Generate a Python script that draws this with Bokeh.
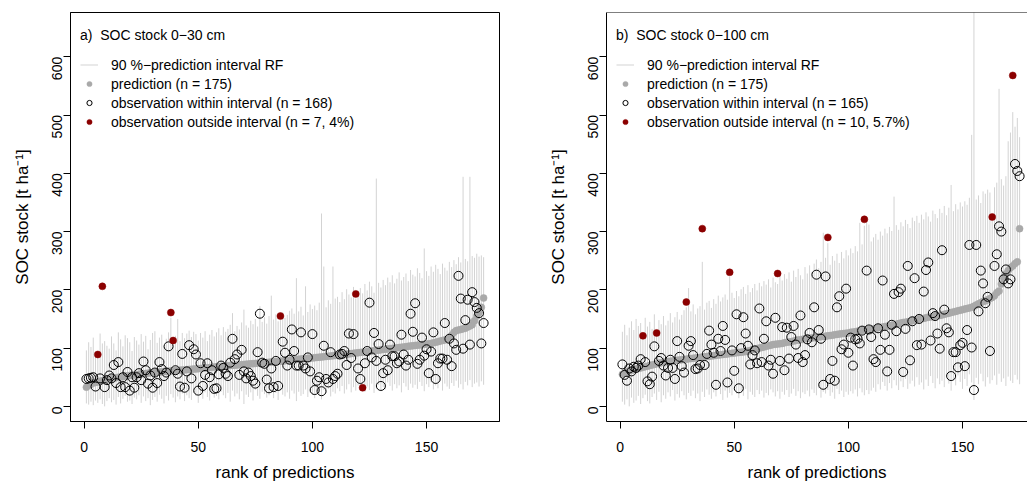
import math
import numpy as np
from bokeh.plotting import figure
from bokeh.layouts import row
from bokeh.models import ColumnDataSource, Range1d, FixedTicker, Legend, LegendItem, Span
from bokeh.embed import file_html
from bokeh.resources import INLINE

FONT = "Liberation Sans"

# ---------------- data: panel a (SOC stock 0-30 cm) ----------------
PRED_A = [33, 36, 38, 40, 41, 42, 43, 44, 45, 46,
          47, 48, 48.5, 49, 50, 50.5, 51, 52, 52.5, 53,
          53.5, 54, 54.5, 55, 55.5, 56, 56.5, 57, 57.5, 58,
          58.3, 58.6, 59, 59.3, 59.6, 60, 60.3, 60.6, 61, 61.3,
          61.6, 62, 62.3, 62.6, 63, 63.3, 63.6, 64, 64.3, 64.6,
          65, 65.4, 65.8, 66.2, 66.6, 67, 67.4, 67.8, 68.2, 68.6,
          69, 69.3, 69.6, 70, 70.3, 70.6, 71, 71.3, 71.6, 72,
          72.3, 72.6, 73, 73.3, 73.6, 74, 74.3, 74.6, 75, 75.3,
          75.6, 76, 76.4, 76.8, 77.2, 77.6, 78, 78.4, 78.8, 79.2,
          79.6, 80, 80.4, 80.8, 81.2, 81.6, 82, 82.4, 82.8, 83.2,
          83.6, 84, 84.4, 84.8, 85.2, 85.6, 86, 86.4, 86.8, 87.2,
          87.6, 88, 88.5, 89, 89.5, 90, 90.5, 91, 91.5, 92,
          92.5, 93, 93.5, 94, 94.5, 95, 95.5, 96, 96.5, 97,
          97.5, 98, 98.5, 99, 99.5, 100, 100.5, 101, 101.5, 102,
          102.5, 103, 103.5, 104, 104.5, 105, 105.5, 106, 106.5, 107,
          107.5, 108, 109, 110, 111, 112, 113, 114, 115, 117,
          122, 127, 130, 131, 132, 133, 134, 136, 138, 140,
          147, 155, 161, 170, 186]
OBS_A = [47, 48, 49, 50, 34, 89, 48, 206, 33, 45,
         53, 48, 71, 40, 76, 33, 50, 33, 59, 27,
         50, 32, 50, 57, 45, 77, 62, 39, 53, 32,
         58, 40, 76, 64, 52, 58, 103, 161, 113, 62,
         56, 34, 90, 32, 60, 105, 48, 98, 89, 27,
         74, 35, 54, 74, 50, 62, 30, 31, 55, 70,
         66, 56, 52, 75, 116, 81, 89, 54, 97, 60,
         48, 58, 52, 44, 39, 93, 159, 75, 73, 46,
         31, 65, 33, 78, 35, 155, 111, 92, 70, 80,
         132, 95, 70, 70, 127, 70, 65, 84, 60, 124,
         28, 44, 50, 26, 104, 47, 41, 93, 47, 52,
         56, 89, 90, 95, 71, 125, 83, 124, 193, 65,
         47, 32, 74, 95, 178, 84, 126, 78, 107, 35,
         57, 80, 62, 106, 86, 86, 74, 77, 123, 89,
         70, 80, 159, 128, 177, 73, 80, 118, 87, 98,
         57, 94, 127, 47, 74, 82, 82, 143, 80, 116,
         69, 108, 97, 224, 185, 99, 148, 183, 106, 196,
         179, 169, 160, 108, 143]
LO_A = [5, 3, 8, 2, 10, 6, 12, 4, 0, 9,
        14, 7, 11, 3, 16, 5, 13, 18, 8, 10,
        4, 15, 12, 19, 6, 17, 9, 14, 2, 11,
        16, 8, 20, 13, 5, 18, 10, 21, 15, 7,
        17, 12, 22, 9, 19, 14, 11, 23, 18, 6,
        20, 13, 24, 16, 10, 21, 15, 18, 12, 25,
        19, 14, 23, 8, 27, 17, 22, 12, 26, 4,
        20, 16, 24, 10, 28, 18, 13, 25, 21, 15,
        19, 26, 14, 23, 11, 28, 20, 17, 24, 13,
        27, 22, 9, 25, 18, 21, 29, 16, 24, 20,
        14, 26, 19, 12, 28, 23, 30, 17, 25, 22,
        31, 26, 35, 22, 29, 38, 24, 33, 27, 36,
        30, 40, 25, 34, 28, 39, 23, 32, 37, 26,
        33, 29, 41, 35, 27, 38, 31, 36, 24, 40,
        34, 28, 39, 32, 37, 30, 42, 35, 26, 38,
        33, 41, 29, 36, 31, 43, 27, 39, 34, 30,
        40, 35, 44, 32, 38, 29, 42, 36, 45, 33,
        39, 41, 34, 43, 37]
HI_A = [96, 110, 102, 118, 92, 85, 125, 108, 112, 104,
        99, 120, 108, 96, 127, 115, 103, 122, 117, 110,
        95, 119, 113, 106, 124, 111, 121, 98, 114, 126,
        129, 109, 118, 123, 104, 116, 127, 152, 106, 121,
        150, 112, 126, 117, 125, 130, 119, 128, 124, 113,
        126, 118, 129, 112, 123, 131, 120, 127, 134, 122,
        136, 128, 133, 140, 160, 129, 138, 132, 144, 166,
        139, 135, 147, 141, 150, 137, 172, 145, 153, 142,
        155, 190, 149, 158, 146, 148, 161, 152, 157, 164,
        168, 159, 220, 163, 171, 156, 206, 162, 175, 167,
        173, 165, 178, 331, 240, 170, 182, 176, 240, 185,
        188, 179, 196, 184, 201, 192, 187, 205, 185, 198,
        203, 194, 210, 199, 214, 206, 195, 391, 212, 204,
        217, 208, 221, 213, 225, 211, 219, 230, 216, 222,
        228, 215, 234, 226, 223, 237, 229, 220, 271, 232,
        224, 240, 231, 243, 236, 227, 245, 238, 233, 248,
        239, 251, 244, 256, 247, 394, 253, 249, 394, 258,
        255, 262, 257, 259, 256]

# ---------------- data: panel b (SOC stock 0-100 cm) ----------------
PRED_B = [55, 57, 59, 61, 62, 63, 64, 65, 66, 67,
          68, 69, 70, 71, 72, 73, 74, 75, 75.5, 76,
          77, 77.5, 78, 78.5, 79, 79.5, 80, 80.5, 81, 81.5,
          82, 82.5, 83, 83.5, 84, 84.5, 85, 85.5, 86, 86.5,
          87, 87.5, 88, 88.5, 89, 89.5, 90, 90.5, 91, 91.5,
          92, 92.5, 93, 93.5, 94, 95, 96, 97, 98, 99,
          100, 101, 102, 103, 104, 105, 106, 106.5, 107, 107.5,
          108, 109, 110, 110.5, 111, 112, 113, 114, 114.5, 115,
          116, 116.5, 117, 117.5, 118, 118.5, 119, 119.5, 120, 120.5,
          121, 121.5, 122, 123, 123.5, 124, 124.5, 125, 125.5, 126,
          127, 127.5, 128, 129, 130, 130.5, 131, 131.5, 132, 132.5,
          133, 134, 135, 135.5, 136, 137, 137.5, 138, 139, 140,
          141, 142, 143, 144, 144.5, 145, 146, 147, 148, 149,
          150, 150.5, 151, 152, 153, 153.5, 154, 155, 155.5, 156,
          157, 158, 159, 160, 161, 162, 163, 164, 165, 166,
          167, 168, 169, 170, 172, 174, 176, 178, 180, 181,
          183, 185, 187, 190, 195, 198, 210, 221, 227, 233,
          238, 241, 245, 248, 305]
OBS_B = [72, 54, 44, 65, 60, 68, 66, 70, 81, 121,
         76, 43, 38, 51, 103, 126, 78, 83, 70, 53,
         66, 80, 66, 47, 112, 85, 69, 58, 179, 104,
         112, 88, 64, 65, 71, 305, 71, 90, 130, 106,
         92, 37, 116, 95, 138, 114, 41, 230, 96, 61,
         158, 31, 100, 153, 125, 104, 72, 88, 96, 74,
         168, 76, 116, 146, 70, 80, 56, 152, 228, 78,
         136, 62, 135, 82, 119, 138, 106, 83, 156, 76,
         88, 115, 126, 110, 170, 226, 131, 116, 37, 223,
         290, 47, 78, 44, 170, 189, 98, 106, 202, 92,
         118, 70, 115, 116, 108, 130, 321, 233, 132, 119,
         81, 76, 134, 97, 216, 123, 60, 97, 140, 193,
         129, 196, 202, 59, 133, 241, 79, 146, 220, 105,
         150, 106, 197, 234, 247, 113, 160, 155, 125, 99,
         268, 166, 134, 127, 52, 93, 93, 67, 105, 109,
         69, 131, 277, 101, 28, 277, 163, 233, 211, 177,
         188, 95, 325, 241, 261, 309, 300, 218, 235, 211,
         218, 568, 416, 404, 395]
LO_B = [8, 3, 12, 0, 15, 6, 10, 18, 4, 14,
        20, 9, 5, 16, 22, 11, 25, 7, 19, 13,
        24, 17, 28, 10, 21, 15, 26, 19, 12, 23,
        18, 27, 14, 22, 9, 25, 16, 29, 20, 13,
        24, 17, 30, 21, 11, 27, 15, 23, 19, 28,
        22, 14, 26, 18, 30, 12, 25, 20, 16, 28,
        21, 27, 15, 23, 19, 29, 24, 17, 26, 13,
        25, 20, 28, 16, 22, 30, 18, 26, 14, 24,
        21, 27, 17, 29, 23, 19, 31, 15, 25, 22,
        28, 18, 24, 13, 30, 21, 27, 16, 25, 20,
        26, 22, 29, 17, 31, 24, 19, 28, 21, 27,
        32, 25, 38, 29, 42, 35, 27, 40, 31, 45,
        36, 28, 43, 33, 47, 30, 39, 44, 34, 50,
        37, 41, 29, 46, 35, 52, 40, 31, 48, 38,
        44, 33, 51, 39, 27, 45, 36, 53, 42, 30,
        47, 35, 55, 41, 11, 49, 38, 56, 43, 34,
        50, 39, 45, 53, 37, 56, 42, 48, 35, 51,
        44, 40, 54, 46, 38]
HI_B = [128, 140, 122, 135, 146, 131, 150, 138, 143, 115,
        152, 137, 145, 133, 158, 120, 148, 141, 155, 139,
        147, 160, 144, 153, 162, 149, 157, 165, 170, 203,
        163, 175, 158, 168, 172, 248, 166, 178, 181, 169,
        184, 176, 190, 180, 187, 192, 183, 222, 195, 186,
        198, 189, 201, 205, 193, 208, 196, 203, 210, 199,
        212, 206, 215, 209, 218, 204, 221, 213, 210, 224,
        216, 227, 219, 230, 214, 233, 222, 236, 225, 218,
        239, 228, 242, 231, 245, 252, 237, 248, 298, 255,
        280, 243, 258, 250, 262, 246, 265, 254, 268, 259,
        271, 263, 275, 266, 315, 278, 310, 316, 312, 283,
        290, 296, 286, 300, 293, 305, 297, 308, 301, 360,
        311, 303, 316, 309, 320, 313, 306, 324, 318, 327,
        315, 329, 321, 333, 326, 317, 336, 330, 323, 339,
        332, 344, 328, 341, 380, 335, 347, 338, 350, 343,
        352, 346, 358, 466, 700, 355, 362, 349, 369, 365,
        372, 367, 318, 376, 384, 545, 390, 379, 395, 455,
        470, 505, 480, 495, 462]

TITLES = ["a)  SOC stock 0\u221230 cm", "b)  SOC stock 0\u2212100 cm"]
LEGEND_A = ["90 %\u2212prediction interval RF", "prediction (n = 175)",
            "observation within interval (n = 168)",
            "observation outside interval (n = 7, 4%)"]
LEGEND_B = ["90 %\u2212prediction interval RF", "prediction (n = 175)",
            "observation within interval (n = 165)",
            "observation outside interval (n = 10, 5.7%)"]
X_TICKS = [0, 50, 100, 150]
Y_TICKS = [0, 100, 200, 300, 400, 500, 600]
X_LABEL = "rank of predictions"
Y_LABEL = "SOC stock [t ha\u207b\u00b9]"

X_START, X_END_A, X_END_B = -5.96, 181.96, 178.46
Y_START, Y_END = -26, 676


def panel(title, labels, pred, lo, hi, obs, width, x_end, border_right, box):
    pred = np.asarray(pred, float)
    lo = np.asarray(lo, float)
    hi = np.asarray(hi, float)
    obs = np.asarray(obs, float)
    rank = np.arange(1, len(pred) + 1)
    inside = (obs >= lo) & (obs <= hi)
    src = ColumnDataSource(dict(rank=rank, pred=pred, lo=lo, hi=hi))
    src_in = ColumnDataSource(dict(rank=rank[inside], obs=obs[inside]))
    src_out = ColumnDataSource(dict(rank=rank[~inside], obs=obs[~inside]))

    p = figure(width=width, height=484, x_range=Range1d(X_START, x_end),
               y_range=Range1d(Y_START, Y_END), output_backend="svg",
               toolbar_location=None, min_border_left=70,
               min_border_right=border_right, min_border_top=12,
               min_border_bottom=61)
    p.xgrid.visible = False
    p.ygrid.visible = False
    p.background_fill_color = "white"
    p.border_fill_color = "white"

    r_int = p.segment(x0="rank", y0="lo", x1="rank", y1="hi", source=src,
                      line_color="#D3D3D3", line_width=1)
    r_pred = p.scatter("rank", "pred", source=src, marker="circle", size=7,
                       fill_color="#A9A9A9", line_color="#A9A9A9", line_width=0.5)
    r_in = p.scatter("rank", "obs", source=src_in, marker="circle", size=9,
                     fill_color=None, line_color="black", line_width=1)
    r_out = p.scatter("rank", "obs", source=src_out, marker="circle", size=7,
                      fill_color="#8B0000", line_color="#8B0000", line_width=0.5)

    legend = Legend(items=[LegendItem(label=labels[0], renderers=[r_int]),
                           LegendItem(label=labels[1], renderers=[r_pred]),
                           LegendItem(label=labels[2], renderers=[r_in]),
                           LegendItem(label=labels[3], renderers=[r_out])],
                    location=(10, 290), title=title)
    legend.title_text_font = FONT
    legend.title_text_font_size = "14px"
    legend.title_text_font_style = "normal"
    legend.title_text_color = "black"
    legend.title_standoff = 12
    legend.label_text_font = FONT
    legend.label_text_font_size = "14px"
    legend.label_text_color = "black"
    legend.label_standoff = 13
    legend.glyph_width = 18
    legend.glyph_height = 13
    legend.label_height = 19
    legend.spacing = 0
    legend.padding = 5
    legend.margin = 0
    legend.border_line_color = None
    legend.background_fill_alpha = 0
    p.add_layout(legend)

    p.xaxis.ticker = FixedTicker(ticks=X_TICKS)
    p.yaxis.ticker = FixedTicker(ticks=Y_TICKS)
    for ax in (p.xaxis[0], p.yaxis[0]):
        ax.axis_line_color = "black"
        ax.major_tick_line_color = "black"
        ax.major_tick_in = 0
        ax.major_tick_out = 7
        ax.minor_tick_line_color = None
        ax.major_label_text_font = FONT
        ax.major_label_text_font_size = "14px"
        ax.major_label_text_color = "black"
        ax.axis_label_text_font = FONT
        ax.axis_label_text_font_size = "17px"
        ax.axis_label_text_font_style = "normal"
        ax.axis_label_text_color = "black"
    p.xaxis.axis_label = X_LABEL
    p.xaxis.major_label_standoff = 13
    p.xaxis.axis_label_standoff = 8
    p.yaxis.axis_label = Y_LABEL
    p.yaxis.major_label_orientation = math.pi / 2
    p.yaxis.major_label_standoff = 6
    p.yaxis.axis_label_standoff = 13

    if box:
        p.outline_line_color = "black"
    else:
        p.outline_line_color = None
        p.add_layout(Span(location=Y_END, dimension="width",
                          line_color="black", line_width=1))
    return p


p1 = panel(TITLES[0], LEGEND_A, PRED_A, LO_A, HI_A, OBS_A, 536, X_END_A, 37, True)
p2 = panel(TITLES[1], LEGEND_B, PRED_B, LO_B, HI_B, OBS_B, 491, X_END_B, 0, False)

layout = row(p1, p2)
open("out.html", "w").write(file_html(layout, INLINE))
